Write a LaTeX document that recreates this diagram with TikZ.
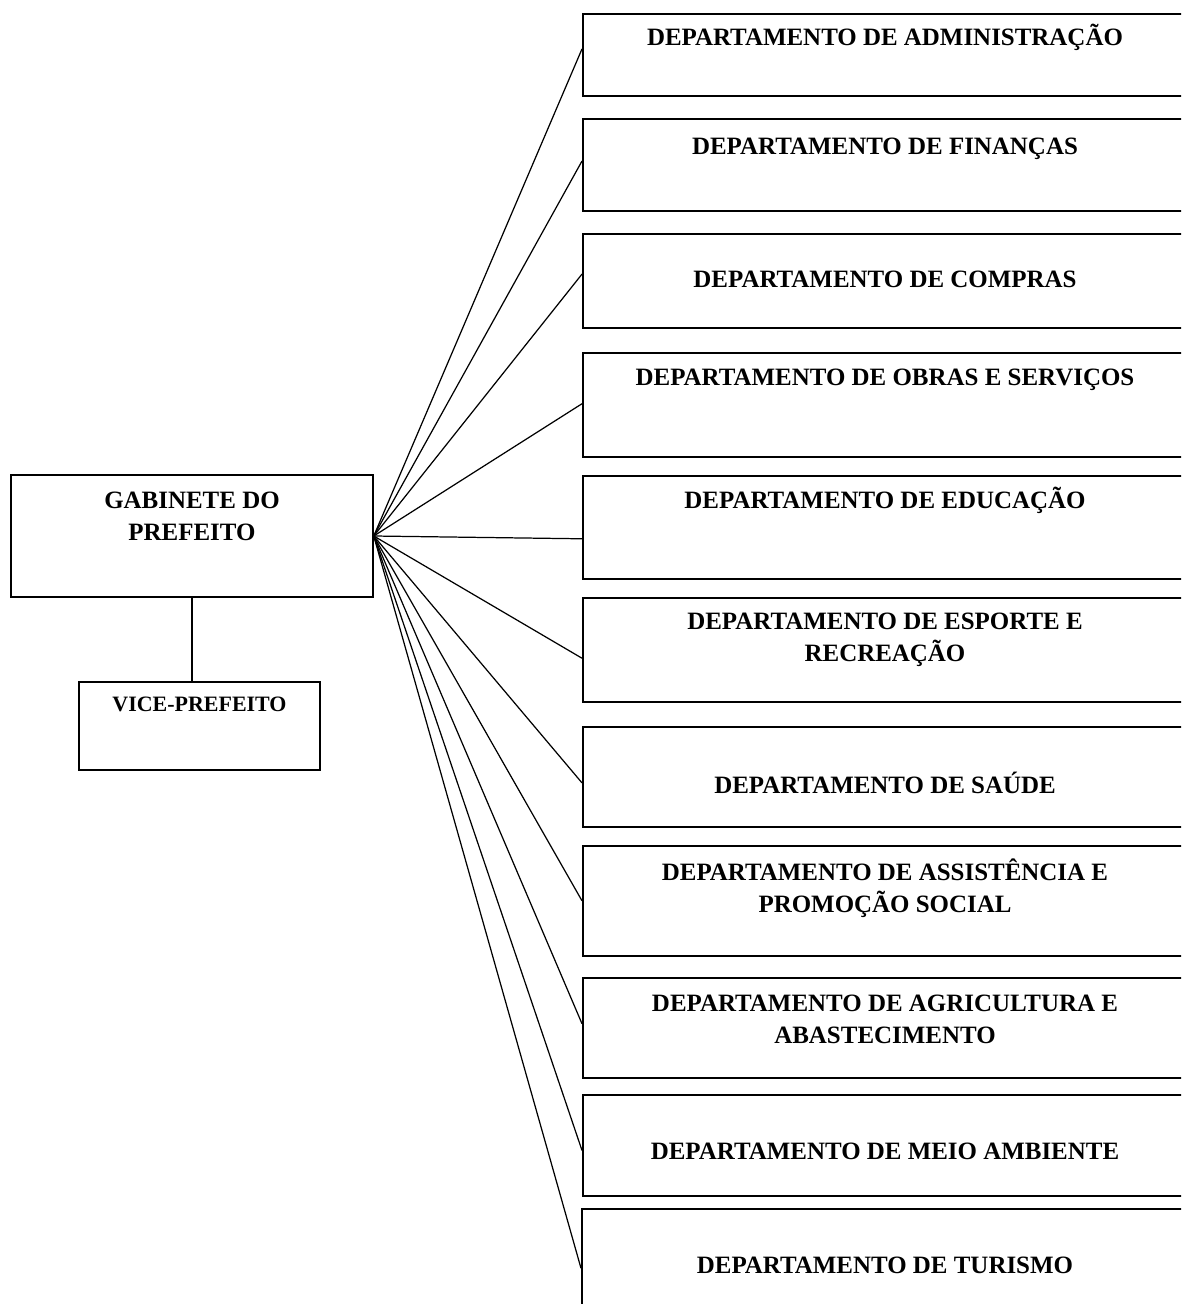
\documentclass[tikz,border=0pt]{standalone}
\usepackage{fontspec}
\setmainfont{Liberation Serif}
\usetikzlibrary{calc}

\begin{document}
\begin{tikzpicture}[x=0.02cm,y=-0.02cm,line width=0.7pt,
    box/.style={draw,line width=0.9pt,rectangle,inner sep=0pt},
    dept/.style={box,anchor=north west,minimum width=12.12cm},
    dtext/.style={anchor=base,align=center,inner sep=0pt,font=\fontsize{14.2}{18}\selectfont\bfseries}]
    \useasboundingbox (0,0) rectangle (1181,1304);
    \clip (0,0) rectangle (1181,1304);

    \node[box,minimum width=7.24cm,minimum height=2.44cm] (gab) at (192,536) {};
    \node[dtext] (gabtxt) at (192,540) {GABINETE DO\\PREFEITO};
    \node[box,minimum width=4.82cm,minimum height=1.76cm] (vice) at (199.5,726) {};
    \node[dtext,font=\fontsize{12.5}{16}\selectfont\bfseries] (vicetxt) at (199.5,711) {VICE-PREFEITO};

    \node[dept,minimum height=1.64cm] (d1) at (582,13) {};
    \node[dept,minimum height=1.84cm] (d2) at (582,118) {};
    \node[dept,minimum height=1.88cm] (d3) at (582,233) {};
    \node[dept,minimum height=2.08cm] (d4) at (582,352) {};
    \node[dept,minimum height=2.06cm] (d5) at (582,475) {};
    \node[dept,minimum height=2.08cm] (d6) at (582,597) {};
    \node[dept,minimum height=2.00cm] (d7) at (582,726) {};
    \node[dept,minimum height=2.20cm] (d8) at (582,845) {};
    \node[dept,minimum height=2.00cm] (d9) at (582,977) {};
    \node[dept,minimum height=2.02cm] (d10) at (582,1094) {};
    \node[dept,minimum height=2.20cm] (d11) at (581,1208) {};

    \node[dtext] (t1) at (885,46) {DEPARTAMENTO DE ADMINISTRAÇÃO};
    \node[dtext] (t2) at (885,155) {DEPARTAMENTO DE FINANÇAS};
    \node[dtext] (t3) at (885,287) {DEPARTAMENTO DE COMPRAS};
    \node[dtext] (t4) at (885,385) {DEPARTAMENTO DE OBRAS E SERVIÇOS};
    \node[dtext] (t5) at (885,508) {DEPARTAMENTO DE EDUCAÇÃO};
    \node[dtext] (t6) at (885,661) {DEPARTAMENTO DE ESPORTE E\\RECREAÇÃO};
    \node[dtext] (t7) at (885,793) {DEPARTAMENTO DE SAÚDE};
    \node[dtext] (t8) at (885,912) {DEPARTAMENTO DE ASSISTÊNCIA E\\PROMOÇÃO SOCIAL};
    \node[dtext] (t9) at (885,1043) {DEPARTAMENTO DE AGRICULTURA E\\ABASTECIMENTO};
    \node[dtext] (t10) at (885,1159) {DEPARTAMENTO DE MEIO AMBIENTE};
    \node[dtext] (t11) at (885,1273) {DEPARTAMENTO DE TURISMO};

    \draw (gab.south) -- (gab.south |- vice.north);

    \path[draw]
        (gab.east) edge ($(d1.north west)!.43!(d1.south west)$)
        (gab.east) edge ($(d2.north west)!.46!(d2.south west)$)
        (gab.east) edge ($(d3.north west)!.43!(d3.south west)$)
        (gab.east) edge ($(d4.north west)!.49!(d4.south west)$)
        (gab.east) edge ($(d5.north west)!.61!(d5.south west)$)
        (gab.east) edge ($(d6.north west)!.58!(d6.south west)$)
        (gab.east) edge ($(d7.north west)!.56!(d7.south west)$)
        (gab.east) edge ($(d8.north west)!.50!(d8.south west)$)
        (gab.east) edge ($(d9.north west)!.46!(d9.south west)$)
        (gab.east) edge ($(d10.north west)!.55!(d10.south west)$)
        (gab.east) edge ($(d11.north west)!.54!(d11.south west)$)
        ;
\end{tikzpicture}
\end{document}
